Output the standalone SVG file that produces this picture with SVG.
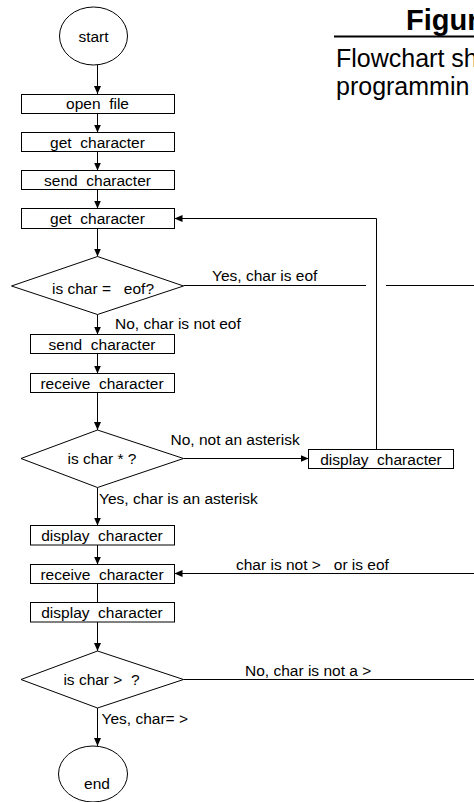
<svg xmlns="http://www.w3.org/2000/svg" width="474" height="802" viewBox="0 0 474 802">
<style>
text{font-family:"Liberation Sans",Arial,sans-serif;fill:#000;white-space:pre}
.box{fill:#fff;stroke:#000;stroke-width:1}
.bt{font-size:15.5px;text-anchor:middle}
.lbl{font-size:15.5px}
.c{fill:none;stroke:#000;stroke-width:1}
</style>
<defs>
<marker id="ah" markerUnits="userSpaceOnUse" markerWidth="8" markerHeight="8" refX="8" refY="3.5" orient="auto">
<path d="M0,0 L8,3.5 L0,7 Z" fill="#000"/>
</marker>
</defs>
<rect width="474" height="802" fill="#fff"/>
<g id="title">
<text x="406" y="29.5" style="font-size:29px;font-weight:bold">Figur</text>
<line x1="334" y1="36.5" x2="474" y2="36.5" stroke="#000" stroke-width="2"/>
<text x="336" y="67" style="font-size:25px">Flowchart sh</text>
<text x="336" y="95" style="font-size:25px">programmin</text>
</g>
<g id="connectors">
<path class="c" d="M97.5,65 V94" marker-end="url(#ah)"/>
<path class="c" d="M97.5,113.5 V132.5" marker-end="url(#ah)"/>
<path class="c" d="M97.5,151.5 V170.5" marker-end="url(#ah)"/>
<path class="c" d="M97.5,189.5 V208.5" marker-end="url(#ah)"/>
<path class="c" d="M97.5,228.5 V256.5" marker-end="url(#ah)"/>
<path class="c" d="M97.5,314.5 V334.5" marker-end="url(#ah)"/>
<path class="c" d="M97.5,353.5 V373.5" marker-end="url(#ah)"/>
<path class="c" d="M97.5,392.5 V430" marker-end="url(#ah)"/>
<path class="c" d="M97.5,487.5 V525.5" marker-end="url(#ah)"/>
<path class="c" d="M97.5,545 V564.5" marker-end="url(#ah)"/>
<path class="c" d="M97.5,583.5 V602.5"/>
<path class="c" d="M97.5,622 V651" marker-end="url(#ah)"/>
<path class="c" d="M97.5,708 V746" marker-end="url(#ah)"/>
<path class="c" d="M183.5,458.5 H308.5" marker-end="url(#ah)"/>
<path class="c" d="M376.5,449.5 V218.5 H174.5" marker-end="url(#ah)"/>
<path class="c" d="M183.5,285.5 H366"/>
<path class="c" d="M386,285.5 H474"/>
<path class="c" d="M474,573.5 H174.5" marker-end="url(#ah)"/>
<path class="c" d="M183.5,679.5 H474"/>
<text class="lbl" x="212" y="281">Yes, char is eof</text>
<text class="lbl" x="115" y="329">No, char is not eof</text>
<text class="lbl" x="170.5" y="445">No, not an asterisk</text>
<text class="lbl" x="99" y="504">Yes, char is an asterisk</text>
<text class="lbl" x="236" y="570">char is not &gt;   or is eof</text>
<text class="lbl" x="245" y="676">No, char is not a &gt;</text>
<text class="lbl" x="101.5" y="724">Yes, char= &gt;</text>
</g>
<g id="start">
<ellipse class="box" cx="93.5" cy="36" rx="34" ry="29"/>
<text class="bt" x="93.5" y="41.5">start</text>
</g>
<g id="open-file">
<rect class="box" x="21.5" y="94.5" width="153" height="19"/>
<text class="bt" x="97.5" y="109">open  file</text>
</g>
<g id="get-char-1">
<rect class="box" x="21.5" y="132.5" width="153" height="19"/>
<text class="bt" x="97.5" y="147.5">get  character</text>
</g>
<g id="send-char-1">
<rect class="box" x="21.5" y="170.5" width="153" height="19"/>
<text class="bt" x="97.5" y="185.5">send  character</text>
</g>
<g id="get-char-2">
<rect class="box" x="21.5" y="208.5" width="153" height="20"/>
<text class="bt" x="97.5" y="224">get  character</text>
</g>
<g id="is-eof">
<polygon class="box" points="11.5,286 97.5,256.5 183.5,286 97.5,314.5"/>
<text class="bt" x="103" y="294">is char =   eof?</text>
</g>
<g id="send-char-2">
<rect class="box" x="30.5" y="334.5" width="144" height="19"/>
<text class="bt" x="102" y="349.5">send  character</text>
</g>
<g id="receive-char-1">
<rect class="box" x="30.5" y="373.5" width="144" height="19"/>
<text class="bt" x="102" y="388.5">receive  character</text>
</g>
<g id="is-asterisk">
<polygon class="box" points="21,458.5 97.5,430 183.5,458.5 97.5,487.5"/>
<text class="bt" x="102" y="464">is char * ?</text>
</g>
<g id="display-char-1">
<rect class="box" x="308.5" y="449.5" width="145" height="19"/>
<text class="bt" x="381" y="464.5">display  character</text>
</g>
<g id="display-char-2">
<rect class="box" x="30.5" y="525.5" width="144" height="19.5"/>
<text class="bt" x="102" y="540.5">display  character</text>
</g>
<g id="receive-char-2">
<rect class="box" x="30.5" y="564.5" width="144" height="19"/>
<text class="bt" x="102" y="579.5">receive  character</text>
</g>
<g id="display-char-3">
<rect class="box" x="30.5" y="602.5" width="144" height="19.5"/>
<text class="bt" x="102" y="617.5">display  character</text>
</g>
<g id="is-gt">
<polygon class="box" points="21,679.5 97.5,651 183.5,679.5 97.5,708"/>
<text class="bt" x="101.5" y="685">is char &gt;  ?</text>
</g>
<g id="end">
<ellipse class="box" cx="93" cy="774" rx="34.5" ry="28"/>
<text class="bt" x="97" y="788.5">end</text>
</g>
</svg>
